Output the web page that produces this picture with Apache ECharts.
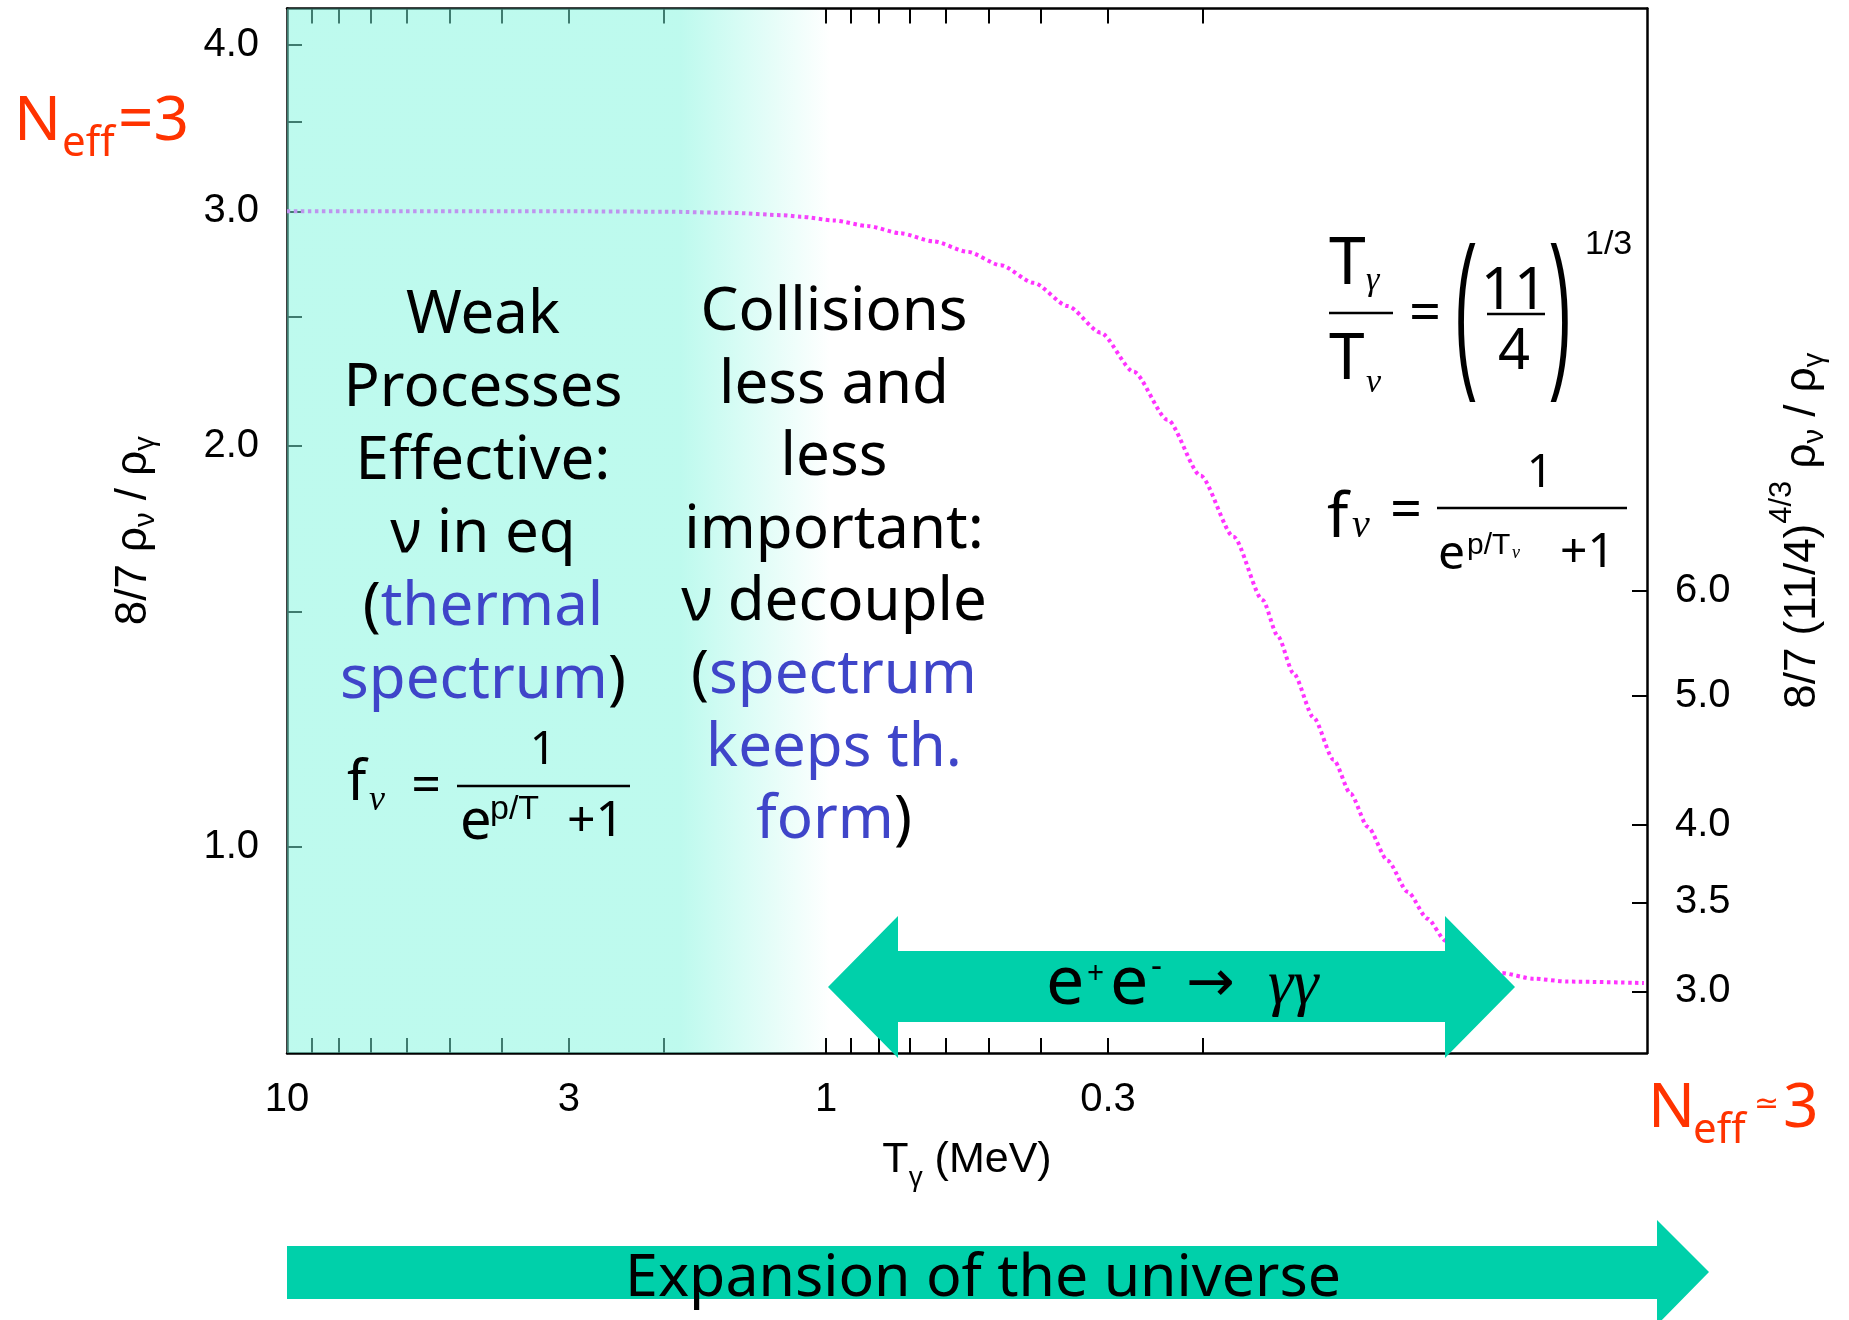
<!DOCTYPE html>
<html><head><meta charset="utf-8">
<script src="https://cdn.jsdelivr.net/npm/echarts@6/dist/echarts.min.js"></script>
<style>html,body{margin:0;padding:0;background:#fff}#c{width:1849px;height:1320px}</style>
</head><body><div id="c"></div>
<script>
// ---- data ----
const tempMeV = [10, 5, 3, 2, 1.5, 1.2, 1.115, 0.9685, 0.8375, 0.7275, 0.6317, 0.5462, 0.4744, 0.4121, 0.3563, 0.3095, 0.2689, 0.2325, 0.2019, 0.1754, 0.1549, 0.1453, 0.1357, 0.1246, 0.1144, 0.1064, 0.0989, 0.0908, 0.0834, 0.0766, 0.0709, 0.0648, 0.0598, 0.0561, 0.0487, 0.0421, 0.0304];
const ratio   = [3.0, 3.0, 3.0, 2.998, 2.992, 2.98, 2.972, 2.953, 2.925, 2.888, 2.848, 2.797, 2.733, 2.651, 2.547, 2.432, 2.274, 2.092, 1.899, 1.709, 1.532, 1.44, 1.349, 1.25, 1.162, 1.096, 1.035, 0.976, 0.925, 0.883, 0.85, 0.825, 0.811, 0.804, 0.796, 0.792, 0.790];
const xRange = [0.03, 10];
const xTickValues = [9, 8, 7, 6, 5, 4, 3, 2, 1, 0.9, 0.8, 0.7, 0.6, 0.5, 0.4, 0.3, 0.2];
const xLabelValues = [10, 3, 1, 0.3];
const yLeftRange = [0.7, 4.26];
const yLeftTicks = [1, 1.5, 2, 2.5, 3, 3.5, 4];
const yLeftLabels = [1, 2, 3, 4];
const rightFactor = Math.pow(11 / 4, 4 / 3);
const yRightTicks = [3, 3.5, 4, 5, 6];
const yRightLabels = [3, 3.5, 4, 5, 6];
const shadeRange = [10, 0.98];

// ---- styles ----
const LS = "'Liberation Sans', Arial, sans-serif";
const SANS = "'Comic Sans MS', 'Noto Sans', sans-serif";
const SERIF = "'Liberation Serif', 'Times New Roman', serif";
const DJ = "'DejaVu Sans', sans-serif";
const BLUE = '#3f45c9';
const RED = '#ff3300';
const GREEN = '#00d0aa';

const chart = echarts.init(document.getElementById('c'), null, {renderer: 'canvas'});

function fmt(v) { return String(+(+v).toPrecision(3)); }
function fmt1(v) { return (+v).toFixed(1); }

const axisLineStyle = {color: '#000', width: 2.5};
const tickStyle = {color: '#000', width: 2};
const labelBase = {fontFamily: LS, fontSize: 40, color: '#000'};

function tx(text, x, baseY, size, o) {
  o = o || {};
  return {
    type: 'text', z: 100, silent: true,
    x: x, y: baseY - (o.mid != null ? o.mid : 0.3) * size,
    scaleX: o.sx || 1, scaleY: o.sy || 1,
    style: {
      text: text, fontSize: size, fontFamily: o.fam || SANS,
      fontStyle: o.italic ? 'italic' : 'normal', fontWeight: o.bold ? 'bold' : 'normal',
      fill: o.fill || '#000', align: o.align || 'left', verticalAlign: 'middle'
    }
  };
}
function bar(x1, x2, y) {
  return {type: 'line', z: 100, silent: true, shape: {x1: x1, y1: y, x2: x2, y2: y}, style: {stroke: '#000', lineWidth: 2.5}};
}

const graphics = [
  // arrows
  {type: 'polygon', z: 50, silent: true, shape: {points: [[828,987],[898,916],[898,951],[1445,951],[1445,916],[1515,987],[1445,1058],[1445,1022],[898,1022],[898,1058]]}, style: {fill: GREEN}},
  {type: 'polygon', z: 50, silent: true, shape: {points: [[287,1246],[1657,1246],[1657,1220],[1709,1272],[1657,1325],[1657,1299],[287,1299]]}, style: {fill: GREEN}},
  // column texts
  {type: 'text', z: 100, silent: true, x: 483, y: 498, style: {
    text: 'Weak\nProcesses\nEffective:\nν in eq\n({b|thermal}\n{b|spectrum})',
    fontSize: 60, fontFamily: SANS, fill: '#000', align: 'center', verticalAlign: 'middle', lineHeight: 73,
    rich: {b: {fill: BLUE}}
  }},
  {type: 'text', z: 100, silent: true, x: 834, y: 567, style: {
    text: 'Collisions\nless and\nless\nimportant:\nν decouple\n({b|spectrum}\n{b|keeps th.}\n{b|form})',
    fontSize: 60, fontFamily: SANS, fill: '#000', align: 'center', verticalAlign: 'middle', lineHeight: 72.6,
    rich: {b: {fill: BLUE}}
  }},
  // left formula
  tx('f', 347, 801, 56),
  tx('ν', 369, 811, 36, {fam: SERIF, italic: true}),
  tx('=', 426, 804, 52, {align: 'center'}),
  bar(457, 630, 786),
  tx('1', 543, 765, 46, {align: 'center'}),
  tx('e', 460, 840, 56),
  tx('p/T', 490, 820, 34, {fam: LS}),
  tx('+1', 567, 837, 50),
  // right formula 1
  tx('T', 1329, 285, 66),
  tx('γ', 1366, 291, 34, {fam: SERIF, italic: true}),
  bar(1329, 1393, 313),
  tx('T', 1329, 380, 64),
  tx('ν', 1366, 393, 34, {fam: SERIF, italic: true}),
  tx('=', 1425, 332, 56, {align: 'center'}),
  tx('(', 1465, 371, 170, {fam: LS, align: 'center', sx: 0.38}),
  tx('11', 1514, 310, 58, {align: 'center'}),
  bar(1487, 1545, 314),
  tx('4', 1514, 370, 56, {align: 'center'}),
  tx(')', 1561, 371, 170, {fam: LS, align: 'center', sx: 0.38}),
  tx('1/3', 1585, 255, 34, {fam: LS}),
  // right formula 2
  tx('f', 1327, 538, 62),
  tx('ν', 1352, 538, 40, {fam: SERIF, italic: true}),
  tx('=', 1406, 529, 56, {align: 'center'}),
  bar(1437, 1627, 508),
  tx('1', 1540, 488, 46, {align: 'center'}),
  tx('e', 1438, 570, 48),
  tx('p/T', 1467, 555, 30, {fam: LS}),
  tx('ν', 1512, 559, 18, {fam: SERIF, italic: true}),
  tx('+1', 1560, 568, 48),
  // e+e- -> gamma gamma
  tx('e', 1046, 1005, 68),
  tx('+', 1087, 983, 30),
  tx('e', 1110, 1005, 68),
  tx('-', 1151, 978, 34),
  tx('→', 1186, 1003, 58, {fam: DJ}),
  tx('γγ', 1268, 1005, 64, {fam: SERIF, italic: true}),
  // expansion
  tx('Expansion of the universe', 983, 1297, 59, {align: 'center'}),
  // Neff labels
  tx('N', 14, 141, 62, {fill: RED}),
  tx('eff', 62, 157, 42, {fill: RED}),
  tx('=3', 118, 141, 62, {fill: RED}),
  tx('N', 1648, 1128, 62, {fill: RED}),
  tx('eff', 1693, 1144, 42, {fill: RED}),
  tx('≃', 1754, 1114, 30, {fill: RED, fam: DJ}),
  tx('3', 1783, 1128, 62, {fill: RED})
];

function xAxisCfg(pos, showLabel) {
  return {
    type: 'log', logBase: 10, position: pos, min: xRange[0], max: xRange[1], inverse: true,
    axisLine: {show: true, onZero: false, lineStyle: axisLineStyle},
    axisTick: {show: true, inside: true, length: 15, customValues: xTickValues, lineStyle: tickStyle},
    minorTick: {show: false}, splitLine: {show: false},
    axisLabel: Object.assign({show: showLabel, customValues: xLabelValues, margin: 27, formatter: fmt}, labelBase),
    name: showLabel ? '{m|T}{s|γ}{m| (MeV)}' : '',
    nameLocation: 'middle', nameGap: 72, nameMoveOverlap: false,
    nameTextStyle: {rich: {
      m: {fontFamily: LS, fontSize: 43, lineHeight: 70, color: '#000'},
      s: {fontFamily: LS, fontSize: 28, lineHeight: 28, color: '#000', padding: [36, 0, 0, 0]}
    }}
  };
}

const option = {
  animation: false,
  backgroundColor: '#fff',
  grid: {left: 287, right: 202, top: 8.5, bottom: 267, containLabel: false, outerBoundsMode: 'none'},
  xAxis: [xAxisCfg('bottom', true), xAxisCfg('top', false)],
  yAxis: [
    {
      type: 'log', logBase: 10, position: 'left', min: yLeftRange[0], max: yLeftRange[1],
      axisLine: {show: true, onZero: false, lineStyle: axisLineStyle},
      axisTick: {show: true, inside: true, length: 15, customValues: yLeftTicks, lineStyle: tickStyle},
      minorTick: {show: false}, splitLine: {show: false},
      axisLabel: Object.assign({customValues: yLeftLabels, margin: 28, formatter: fmt1}, labelBase),
      name: '{m|8/7 ρ}{s|ν}{m| / ρ}{s|γ}', nameLocation: 'middle', nameGap: 128, nameMoveOverlap: false,
      nameTextStyle: {rich: {
        m: {fontFamily: LS, fontSize: 44, lineHeight: 50, color: '#000'},
        s: {fontFamily: LS, fontSize: 29, lineHeight: 26, color: '#000', padding: [24, 0, 0, 0]}
      }}
    },
    {
      type: 'log', logBase: 10, position: 'right', min: yLeftRange[0] * rightFactor, max: yLeftRange[1] * rightFactor,
      axisLine: {show: true, onZero: false, lineStyle: axisLineStyle},
      axisTick: {show: true, inside: true, length: 15, customValues: yRightTicks, lineStyle: tickStyle},
      minorTick: {show: false}, splitLine: {show: false},
      axisLabel: Object.assign({customValues: yRightLabels, margin: 28, formatter: fmt1}, labelBase),
      name: '{m|8/7 (11/4)}{p|4/3}{m| ρ}{s|ν}{m| / ρ}{s|γ}', nameLocation: 'middle', nameGap: 116, nameMoveOverlap: false,
      nameTextStyle: {rich: {
        m: {fontFamily: LS, fontSize: 44, lineHeight: 80, color: '#000'},
        p: {fontFamily: LS, fontSize: 31, lineHeight: 30, color: '#000', padding: [0, 0, 42, 0]},
        s: {fontFamily: LS, fontSize: 29, lineHeight: 26, color: '#000', padding: [24, 0, 0, 0]}
      }}
    }
  ],
  series: [
    {
      type: 'line', name: 'ratio', xAxisIndex: 0, yAxisIndex: 0, z: 2,
      data: tempMeV.map((t, i) => [t, ratio[i]]),
      showSymbol: false, symbol: 'none', smooth: 0.25, smoothMonotone: 'x', silent: true,
      lineStyle: {color: '#ff33ff', width: 4, type: [3.5, 3.5], cap: 'butt'}
    },
    {
      type: 'line', name: 'shade', xAxisIndex: 0, yAxisIndex: 0, z: 5,
      data: [[tempMeV[0], ratio[0]]], symbol: 'none', showSymbol: false, silent: true,
      lineStyle: {opacity: 0},
      markArea: {
        silent: true, z: 5,
        itemStyle: {color: {type: 'linear', x: 0, y: 0, x2: 1, y2: 0, colorStops: [
          {offset: 0, color: 'rgba(125,245,221,0.5)'},
          {offset: 0.724, color: 'rgba(125,245,221,0.5)'},
          {offset: 1, color: 'rgba(125,245,221,0)'}
        ]}},
        data: [[{xAxis: shadeRange[0]}, {xAxis: shadeRange[1]}]]
      }
    }
  ],
  graphic: graphics
};
chart.setOption(option);
</script>
</body></html>
